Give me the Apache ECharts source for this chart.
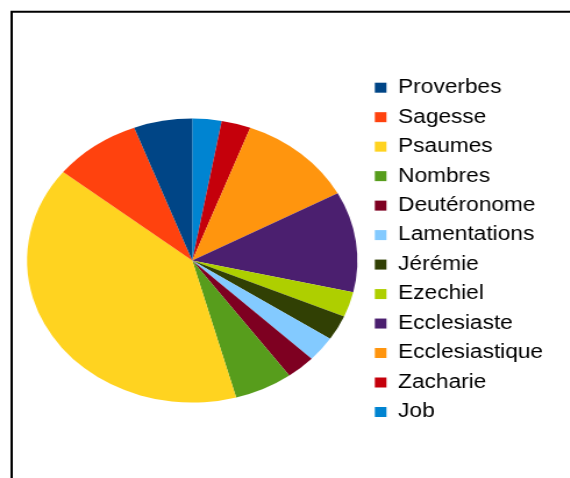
<!DOCTYPE html>
<html>
<head>
<meta charset="utf-8">
<script src="https://cdn.jsdelivr.net/npm/echarts@6/dist/echarts.min.js"></script>
<style>
html,body{margin:0;padding:0;background:#fff;overflow:hidden;width:570px;height:478px;}
#chart{position:absolute;left:0;top:0;width:490px;height:478px;transform:scaleX(1.163);transform-origin:0 0;}
</style>
</head>
<body>
<div id="chart"></div>
<script>
// Slices in drawing order (clockwise from 12 o'clock)
const books = ['Job','Zacharie','Ecclesiastique','Ecclesiaste','Ezechiel','Jérémie','Lamentations','Deutéronome','Nombres','Psaumes','Sagesse','Proverbes'];
const counts = [1,1,4,4,1,1,1,1,2,14,3,2];
const colors = ['#0084d1','#c5000b','#ff950e','#4b1f6f','#aecf00','#314004','#83caff','#7e0021','#579d1c','#ffd320','#ff420e','#004586'];
// Legend order
const legendOrder = ['Proverbes','Sagesse','Psaumes','Nombres','Deutéronome','Lamentations','Jérémie','Ezechiel','Ecclesiaste','Ecclesiastique','Zacharie','Job'];

const chart = echarts.init(document.getElementById('chart'), null, {renderer:'canvas'});
chart.setOption({
  animation:false,
  backgroundColor:'#fff',
  graphic:[{
    type:'rect',
    shape:{x:10,y:11.8,width:1000,height:1000},
    style:{fill:'none',stroke:'#000',lineWidth:2},
    silent:true
  }],
  legend:{
    orient:'vertical',
    left:322.3,
    top:77.7,
    padding:0,
    data:legendOrder,
    icon:'rect',
    itemWidth:10,
    itemHeight:10,
    itemGap:9.48,
    selectedMode:false,
    itemStyle:{borderWidth:0},
    textStyle:{fontFamily:'Liberation Sans, Arial, sans-serif',fontSize:19.5,color:'#000',lineHeight:20,padding:[0,0,0,5]}
  },
  series:[{
    type:'pie',
    center:[165.3,260.6],
    radius:142,
    startAngle:90,
    clockwise:true,
    label:{show:false},
    labelLine:{show:false},
    itemStyle:{borderWidth:0},
    emphasis:{disabled:true},
    data:books.map((b,i)=>({name:b,value:counts[i],itemStyle:{color:colors[i]}}))
  }]
});
</script>
</body>
</html>
